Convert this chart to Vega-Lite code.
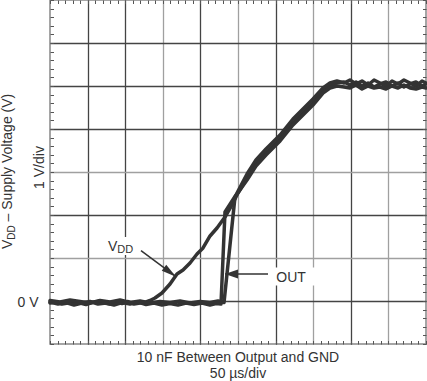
{
  "$schema": "https://vega.github.io/schema/vega-lite/v6.json",
  "width": 376,
  "height": 344,
  "autosize": "none",
  "padding": {"left": 50, "top": 0, "right": 1, "bottom": 37},
  "config": {
    "view": {"stroke": "#888", "strokeWidth": 1.5},
    "font": "Liberation Sans",
    "text": {"font": "Liberation Sans", "color": "#333"}
  },
  "encoding": {
    "x": {"field": "t", "type": "quantitative", "scale": {"domain": [0, 500], "nice": false, "zero": false}, "axis": null},
    "y": {"field": "v", "type": "quantitative", "scale": {"domain": [-1, 7], "nice": false, "zero": false}, "axis": null}
  },
  "layer": [
    {
      "data": {"values": [
        {"s": "VDD", "t": 0, "v": -0.047}, {"s": "VDD", "t": 8.0, "v": -0.023}, {"s": "VDD", "t": 16.0, "v": -0.07}, {"s": "VDD", "t": 23.9, "v": -0.047},
        {"s": "VDD", "t": 31.9, "v": -0.012}, {"s": "VDD", "t": 39.9, "v": -0.047}, {"s": "VDD", "t": 47.9, "v": -0.081}, {"s": "VDD", "t": 55.9, "v": -0.035},
        {"s": "VDD", "t": 63.8, "v": -0.012}, {"s": "VDD", "t": 71.8, "v": -0.047}, {"s": "VDD", "t": 79.8, "v": -0.07}, {"s": "VDD", "t": 87.8, "v": -0.023},
        {"s": "VDD", "t": 95.7, "v": -0.058}, {"s": "VDD", "t": 103.7, "v": -0.012}, {"s": "VDD", "t": 111.7, "v": -0.07}, {"s": "VDD", "t": 119.7, "v": -0.047},
        {"s": "VDD", "t": 127.7, "v": -0.023}, {"s": "VDD", "t": 133.0, "v": 0.012}, {"s": "VDD", "t": 139.6, "v": 0.07}, {"s": "VDD", "t": 148.9, "v": 0.186},
        {"s": "VDD", "t": 159.6, "v": 0.395}, {"s": "VDD", "t": 168.9, "v": 0.628}, {"s": "VDD", "t": 176.9, "v": 0.721}, {"s": "VDD", "t": 186.2, "v": 0.884},
        {"s": "VDD", "t": 195.5, "v": 1.093}, {"s": "VDD", "t": 203.5, "v": 1.233}, {"s": "VDD", "t": 212.8, "v": 1.512}, {"s": "VDD", "t": 222.1, "v": 1.698},
        {"s": "VDD", "t": 232.7, "v": 1.953}, {"s": "VDD", "t": 242.0, "v": 2.233}, {"s": "VDD", "t": 250.0, "v": 2.512}, {"s": "VDD", "t": 262.0, "v": 2.86},
        {"s": "VDD", "t": 273.9, "v": 3.186}, {"s": "VDD", "t": 287.2, "v": 3.442}, {"s": "VDD", "t": 305.9, "v": 3.767}, {"s": "VDD", "t": 323.1, "v": 4.14},
        {"s": "VDD", "t": 340.4, "v": 4.442}, {"s": "VDD", "t": 349.7, "v": 4.605}, {"s": "VDD", "t": 363.0, "v": 4.884}, {"s": "VDD", "t": 372.3, "v": 5.0},
        {"s": "VDD", "t": 381.6, "v": 5.07}, {"s": "VDD", "t": 391.0, "v": 5.093}, {"s": "VDD", "t": 398.9, "v": 5.023}, {"s": "VDD", "t": 406.9, "v": 5.093},
        {"s": "VDD", "t": 414.9, "v": 5.0}, {"s": "VDD", "t": 422.9, "v": 5.07}, {"s": "VDD", "t": 430.9, "v": 4.977}, {"s": "VDD", "t": 438.8, "v": 5.047},
        {"s": "VDD", "t": 446.8, "v": 5.093}, {"s": "VDD", "t": 454.8, "v": 5.0}, {"s": "VDD", "t": 462.8, "v": 5.07}, {"s": "VDD", "t": 470.7, "v": 4.977},
        {"s": "VDD", "t": 478.7, "v": 5.047}, {"s": "VDD", "t": 486.7, "v": 5.093}, {"s": "VDD", "t": 494.7, "v": 5.0}, {"s": "VDD", "t": 500, "v": 5.047},

        {"s": "OUT1", "t": 0, "v": -0.023}, {"s": "OUT1", "t": 10.6, "v": -0.07}, {"s": "OUT1", "t": 21.3, "v": -0.035}, {"s": "OUT1", "t": 31.9, "v": -0.093},
        {"s": "OUT1", "t": 42.6, "v": -0.047}, {"s": "OUT1", "t": 53.2, "v": -0.012}, {"s": "OUT1", "t": 63.8, "v": -0.07}, {"s": "OUT1", "t": 74.5, "v": -0.047},
        {"s": "OUT1", "t": 85.1, "v": -0.093}, {"s": "OUT1", "t": 95.7, "v": -0.035}, {"s": "OUT1", "t": 106.4, "v": -0.07}, {"s": "OUT1", "t": 117.0, "v": -0.023},
        {"s": "OUT1", "t": 127.7, "v": -0.081}, {"s": "OUT1", "t": 138.3, "v": -0.047}, {"s": "OUT1", "t": 148.9, "v": -0.093}, {"s": "OUT1", "t": 159.6, "v": -0.058},
        {"s": "OUT1", "t": 170.2, "v": -0.093}, {"s": "OUT1", "t": 180.9, "v": -0.047}, {"s": "OUT1", "t": 191.5, "v": -0.081}, {"s": "OUT1", "t": 202.1, "v": -0.047},
        {"s": "OUT1", "t": 212.8, "v": -0.093}, {"s": "OUT1", "t": 220.7, "v": -0.058}, {"s": "OUT1", "t": 227.4, "v": -0.07}, {"s": "OUT1", "t": 232.7, "v": 2.07},
        {"s": "OUT1", "t": 247.3, "v": 2.465}, {"s": "OUT1", "t": 262.0, "v": 2.953}, {"s": "OUT1", "t": 273.9, "v": 3.279}, {"s": "OUT1", "t": 287.2, "v": 3.535},
        {"s": "OUT1", "t": 305.9, "v": 3.86}, {"s": "OUT1", "t": 323.1, "v": 4.233}, {"s": "OUT1", "t": 340.4, "v": 4.535}, {"s": "OUT1", "t": 349.7, "v": 4.698},
        {"s": "OUT1", "t": 363.0, "v": 4.953}, {"s": "OUT1", "t": 372.3, "v": 5.07}, {"s": "OUT1", "t": 381.6, "v": 5.116}, {"s": "OUT1", "t": 391.0, "v": 5.07},
        {"s": "OUT1", "t": 398.9, "v": 5.14}, {"s": "OUT1", "t": 406.9, "v": 5.047}, {"s": "OUT1", "t": 414.9, "v": 5.116}, {"s": "OUT1", "t": 422.9, "v": 5.023},
        {"s": "OUT1", "t": 430.9, "v": 5.14}, {"s": "OUT1", "t": 438.8, "v": 5.07}, {"s": "OUT1", "t": 446.8, "v": 5.0}, {"s": "OUT1", "t": 454.8, "v": 5.116},
        {"s": "OUT1", "t": 462.8, "v": 5.047}, {"s": "OUT1", "t": 470.7, "v": 5.14}, {"s": "OUT1", "t": 478.7, "v": 5.07}, {"s": "OUT1", "t": 486.7, "v": 5.0},
        {"s": "OUT1", "t": 494.7, "v": 5.116}, {"s": "OUT1", "t": 500, "v": 5.07},

        {"s": "OUT2", "t": 0, "v": 0.012}, {"s": "OUT2", "t": 13.3, "v": -0.023}, {"s": "OUT2", "t": 26.6, "v": 0.023}, {"s": "OUT2", "t": 39.9, "v": -0.012},
        {"s": "OUT2", "t": 53.2, "v": -0.047}, {"s": "OUT2", "t": 66.5, "v": 0.012}, {"s": "OUT2", "t": 79.8, "v": -0.023}, {"s": "OUT2", "t": 93.1, "v": 0.023},
        {"s": "OUT2", "t": 106.4, "v": -0.035}, {"s": "OUT2", "t": 119.7, "v": 0.0}, {"s": "OUT2", "t": 133.0, "v": -0.047}, {"s": "OUT2", "t": 146.3, "v": -0.012},
        {"s": "OUT2", "t": 159.6, "v": -0.035}, {"s": "OUT2", "t": 172.9, "v": 0.0}, {"s": "OUT2", "t": 186.2, "v": -0.047}, {"s": "OUT2", "t": 199.5, "v": -0.012},
        {"s": "OUT2", "t": 212.8, "v": -0.035}, {"s": "OUT2", "t": 223.4, "v": 0.0}, {"s": "OUT2", "t": 231.4, "v": -0.035}, {"s": "OUT2", "t": 246.0, "v": 2.419},
        {"s": "OUT2", "t": 262.0, "v": 2.814}, {"s": "OUT2", "t": 273.9, "v": 3.14}, {"s": "OUT2", "t": 287.2, "v": 3.395}, {"s": "OUT2", "t": 305.9, "v": 3.721},
        {"s": "OUT2", "t": 323.1, "v": 4.093}, {"s": "OUT2", "t": 340.4, "v": 4.395}, {"s": "OUT2", "t": 349.7, "v": 4.558}, {"s": "OUT2", "t": 363.0, "v": 4.837},
        {"s": "OUT2", "t": 372.3, "v": 4.953}, {"s": "OUT2", "t": 381.6, "v": 5.0}, {"s": "OUT2", "t": 391.0, "v": 4.977}, {"s": "OUT2", "t": 398.9, "v": 4.953},
        {"s": "OUT2", "t": 406.9, "v": 5.023}, {"s": "OUT2", "t": 414.9, "v": 4.93}, {"s": "OUT2", "t": 422.9, "v": 5.0}, {"s": "OUT2", "t": 430.9, "v": 4.953},
        {"s": "OUT2", "t": 438.8, "v": 4.977}, {"s": "OUT2", "t": 446.8, "v": 4.93}, {"s": "OUT2", "t": 454.8, "v": 5.0}, {"s": "OUT2", "t": 462.8, "v": 4.953},
        {"s": "OUT2", "t": 470.7, "v": 5.023}, {"s": "OUT2", "t": 478.7, "v": 4.953}, {"s": "OUT2", "t": 486.7, "v": 4.93}, {"s": "OUT2", "t": 494.7, "v": 4.977},
        {"s": "OUT2", "t": 500, "v": 4.953}
      ]},
      "mark": {"type": "line", "color": "#333", "strokeWidth": 3.5, "strokeJoin": "round", "strokeCap": "round"},
      "encoding": {
        "x": {"field": "t", "type": "quantitative", "scale": {"domain": [0, 500], "nice": false, "zero": false},
          "axis": {"orient": "bottom", "values": [0,10,20,30,40,50,60,70,80,90,100,110,120,130,140,150,160,170,180,190,200,210,220,230,240,250,260,270,280,290,300,310,320,330,340,350,360,370,380,390,400,410,420,430,440,450,460,470,480,490,500],
            "labels": false, "title": null, "domain": false, "tickSize": -3.5, "tickColor": "#555", "tickWidth": 1,
            "grid": true, "gridWidth": 1.3,
            "gridColor": {"condition": {"test": "indexof([150,250,350,450], datum.value) >= 0", "value": "#a0a0a0"}, "value": "#444"},
            "gridOpacity": {"condition": {"test": "datum.value % 50 !== 0 || datum.value <= 0 || datum.value >= 500", "value": 0}, "value": 1}}},
        "y": {"field": "v", "type": "quantitative", "scale": {"domain": [-1, 7], "nice": false, "zero": false},
          "axis": {"orient": "left", "values": [-1,-0.8,-0.6,-0.4,-0.2,0,0.2,0.4,0.6,0.8,1,1.2,1.4,1.6,1.8,2,2.2,2.4,2.6,2.8,3,3.2,3.4,3.6,3.8,4,4.2,4.4,4.6,4.8,5,5.2,5.4,5.6,5.8,6,6.2,6.4,6.6,6.8,7],
            "labels": false, "title": null, "domain": false, "tickSize": -3.5, "tickColor": "#555", "tickWidth": 1,
            "grid": true, "gridWidth": 1.3,
            "gridColor": {"condition": {"test": "abs(datum.value - 1) < 0.01 || abs(datum.value - 3) < 0.01", "value": "#a0a0a0"}, "value": "#444"},
            "gridOpacity": {"condition": {"test": "abs(datum.value - round(datum.value)) > 0.01 || datum.value <= -1 || datum.value >= 7", "value": 0}, "value": 1}}},
        "detail": {"field": "s", "type": "nominal"}
      }
    },
    {
      "data": {"values": [{"t": 89.8, "v": 1.279}, {"t": 325.1, "v": 0.57}]},
      "mark": {"type": "point", "shape": "M-1,-0.4H1V0.4H-1Z", "size": 2025, "filled": true, "color": "white", "opacity": 1, "strokeWidth": 0},
      "encoding": {
        "x": {"field": "t", "type": "quantitative", "scale": {"domain": [0, 500], "nice": false, "zero": false},
          "axis": {"orient": "top", "values": [0,10,20,30,40,50,60,70,80,90,100,110,120,130,140,150,160,170,180,190,200,210,220,230,240,250,260,270,280,290,300,310,320,330,340,350,360,370,380,390,400,410,420,430,440,450,460,470,480,490,500],
            "labels": false, "title": null, "domain": false, "grid": false, "tickSize": -3.5, "tickColor": "#555", "tickWidth": 1}},
        "y": {"field": "v", "type": "quantitative", "scale": {"domain": [-1, 7], "nice": false, "zero": false},
          "axis": {"orient": "right", "values": [-1,-0.8,-0.6,-0.4,-0.2,0,0.2,0.4,0.6,0.8,1,1.2,1.4,1.6,1.8,2,2.2,2.4,2.6,2.8,3,3.2,3.4,3.6,3.8,4,4.2,4.4,4.6,4.8,5,5.2,5.4,5.6,5.8,6,6.2,6.4,6.6,6.8,7],
            "labels": false, "title": null, "domain": false, "grid": false, "tickSize": -3.5, "tickColor": "#555", "tickWidth": 1}}
      }
    },
    {
      "data": {"values": [
        {"a": "vdd", "t": 121.0, "v": 1.17}, {"a": "vdd", "t": 167.6, "v": 0.565},
        {"a": "out", "t": 232.7, "v": 0.628}, {"a": "out", "t": 289.9, "v": 0.628}
      ]},
      "mark": {"type": "line", "color": "#333", "strokeWidth": 1.5},
      "encoding": {"detail": {"field": "a", "type": "nominal"}}
    },
    {
      "data": {"values": [{"t": 167.6, "v": 0.565}]},
      "mark": {"type": "point", "shape": "M0,0L-2,-0.5L-2,0.5Z", "size": 225, "angle": 36.6, "filled": true, "color": "#333", "opacity": 1, "strokeWidth": 0}
    },
    {
      "data": {"values": [{"t": 232.7, "v": 0.628}]},
      "mark": {"type": "point", "shape": "M0,0L-2,-0.7L-2,0.7Z", "size": 169, "angle": 180, "filled": true, "color": "#333", "opacity": 1, "strokeWidth": 0}
    },
    {
      "data": {"values": [{"label": "V", "t": 77.1, "v": 1.174}, {"label": "OUT", "t": 300.9, "v": 0.449}]},
      "mark": {"type": "text", "fontSize": 14, "align": "left", "baseline": "alphabetic", "color": "#333"},
      "encoding": {"text": {"field": "label", "type": "nominal"}}
    },
    {
      "data": {"values": [{"label": "DD", "t": 89.5, "v": 1.105}]},
      "mark": {"type": "text", "fontSize": 11, "align": "left", "baseline": "alphabetic", "color": "#333"},
      "encoding": {"text": {"field": "label", "type": "nominal"}}
    },
    {
      "data": {"values": [{"label": "V", "t": -49.9, "v": 1.209}, {"label": "– Supply Voltage (V)", "t": -49.9, "v": 1.851}]},
      "mark": {"type": "text", "fontSize": 14, "angle": -90, "align": "left", "baseline": "alphabetic", "color": "#333"},
      "encoding": {"text": {"field": "label", "type": "nominal"}}
    },
    {
      "data": {"values": [{"label": "DD", "t": -46.5, "v": 1.426}]},
      "mark": {"type": "text", "fontSize": 10, "angle": -90, "align": "left", "baseline": "alphabetic", "color": "#333"},
      "encoding": {"text": {"field": "label", "type": "nominal"}}
    },
    {
      "data": {"values": [{"label": "1 V/div", "t": -8.6, "v": 3.105}]},
      "mark": {"type": "text", "fontSize": 14, "angle": -90, "align": "center", "baseline": "alphabetic", "color": "#333"},
      "encoding": {"text": {"field": "label", "type": "nominal"}}
    },
    {
      "data": {"values": [{"label": "0 V", "t": -15.3, "v": -0.133}]},
      "mark": {"type": "text", "fontSize": 14, "align": "right", "baseline": "alphabetic", "color": "#333"},
      "encoding": {"text": {"field": "label", "type": "nominal"}}
    },
    {
      "data": {"values": [{"label": "10 nF Between Output and GND", "t": 250, "v": -1.43}, {"label": "50 µs/div", "t": 250, "v": -1.791}]},
      "mark": {"type": "text", "fontSize": 14, "align": "center", "baseline": "alphabetic", "color": "#333"},
      "encoding": {"text": {"field": "label", "type": "nominal"}}
    }
  ],
  "resolve": {"axis": {"x": "independent", "y": "independent"}}
}
